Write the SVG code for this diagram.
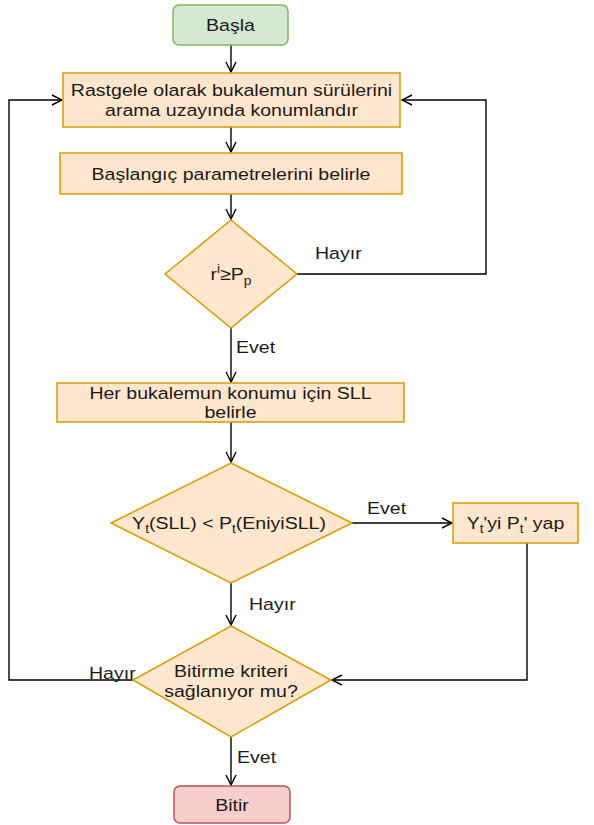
<svg xmlns="http://www.w3.org/2000/svg" width="594" height="825" viewBox="0 0 594 825">
  <defs>
    <marker id="open" viewBox="0 0 12 12" refX="11" refY="6" markerWidth="12" markerHeight="12" markerUnits="userSpaceOnUse" orient="auto">
      <path d="M1,1 L11,6 L1,11" fill="none" stroke="#000" stroke-width="1.4"/>
    </marker>
  </defs>
  <style>
    text { font-family: "Liberation Sans", Arial, sans-serif; font-size: 17px; fill: #1a1a1a; }
    .c { text-anchor: middle; }
    .start { fill: #d5e8d4; stroke: #82b366; stroke-width: 1.5; }
    .proc { fill: #ffe6cc; stroke: #d79b00; stroke-width: 1.5; }
    .end { fill: #f8cecc; stroke: #b85450; stroke-width: 1.5; }
    .edge { fill: none; stroke: #000; stroke-width: 1.4; marker-end: url(#open); }
    .sub { font-size: 12px; }
  </style>

  <g id="connectors">
    <path class="edge" d="M231,45 V72"/>
    <path class="edge" d="M231,127 V152"/>
    <path class="edge" d="M231,194 V219"/>
    <path class="edge" d="M297,274 H486 V100 H402"/>
    <path class="edge" d="M231,328 V382"/>
    <path class="edge" d="M231,422 V462"/>
    <path class="edge" d="M352,523 H452"/>
    <path class="edge" d="M231,583 V625"/>
    <path class="edge" d="M527,543 V680 H332"/>
    <path class="edge" d="M133,680 H9 V100 H62"/>
    <path class="edge" d="M231,737 V785"/>
    <!-- edge labels, drawn slightly widened -->
    <g transform="translate(315,259) scale(1.15,1)"><text>Hayır</text></g>
    <g transform="translate(236,353) scale(1.15,1)"><text>Evet</text></g>
    <g transform="translate(367,514) scale(1.15,1)"><text>Evet</text></g>
    <g transform="translate(249,610) scale(1.15,1)"><text>Hayır</text></g>
    <g transform="translate(89,679) scale(1.15,1)"><text>Hayır</text></g>
    <g transform="translate(237,763) scale(1.15,1)"><text>Evet</text></g>
  </g>

  <g id="start">
    <rect class="start" x="173" y="5" width="115" height="40" rx="6"/>
    <g transform="translate(230.5,31) scale(1.15,1)"><text class="c">Başla</text></g>
  </g>

  <g id="init-swarm">
    <rect class="proc" x="63" y="73" width="337" height="54"/>
    <g transform="translate(231.5,96) scale(1.15,1)"><text class="c">Rastgele olarak bukalemun sürülerini</text></g>
    <g transform="translate(231.5,116) scale(1.15,1)"><text class="c">arama uzayında konumlandır</text></g>
  </g>

  <g id="init-params">
    <rect class="proc" x="60" y="153" width="342" height="41"/>
    <g transform="translate(231,180) scale(1.15,1)"><text class="c">Başlangıç parametrelerini belirle</text></g>
  </g>

  <g id="check-rp">
    <polygon class="proc" points="231,220 297,274 231,328 165,274"/>
    <g transform="translate(231,280) scale(1.15,1)"><text class="c">r<tspan class="sub" dy="-7">i</tspan><tspan dy="7">≥P</tspan><tspan class="sub" dy="5">p</tspan></text></g>
  </g>

  <g id="compute-sll">
    <rect class="proc" x="57" y="383" width="347" height="39"/>
    <g transform="translate(230.5,399) scale(1.15,1)"><text class="c">Her bukalemun konumu için SLL</text></g>
    <g transform="translate(230.5,418) scale(1.15,1)"><text class="c">belirle</text></g>
  </g>

  <g id="compare-sll">
    <polygon class="proc" points="231,463 352,523 231,583 111,523"/>
    <g transform="translate(229,529) scale(1.15,1)"><text class="c">Y<tspan class="sub" dy="4">t</tspan><tspan dy="-4">(SLL) &lt; P</tspan><tspan class="sub" dy="4">t</tspan><tspan dy="-4">(EniyiSLL)</tspan></text></g>
  </g>

  <g id="update-best">
    <rect class="proc" x="453" y="503" width="125" height="40"/>
    <g transform="translate(515.5,529) scale(1.15,1)"><text class="c">Y<tspan class="sub" dy="4">t</tspan><tspan dy="-4">'yi P</tspan><tspan class="sub" dy="4">t</tspan><tspan dy="-4">' yap</tspan></text></g>
  </g>

  <g id="check-stop">
    <polygon class="proc" points="231,626 331,680 231,737 133,680"/>
    <g transform="translate(231,677) scale(1.15,1)"><text class="c">Bitirme kriteri</text></g>
    <g transform="translate(231,697) scale(1.15,1)"><text class="c">sağlanıyor mu?</text></g>
  </g>

  <g id="finish">
    <rect class="end" x="174" y="786" width="116" height="37" rx="6"/>
    <g transform="translate(232,811) scale(1.15,1)"><text class="c">Bitir</text></g>
  </g>
</svg>
